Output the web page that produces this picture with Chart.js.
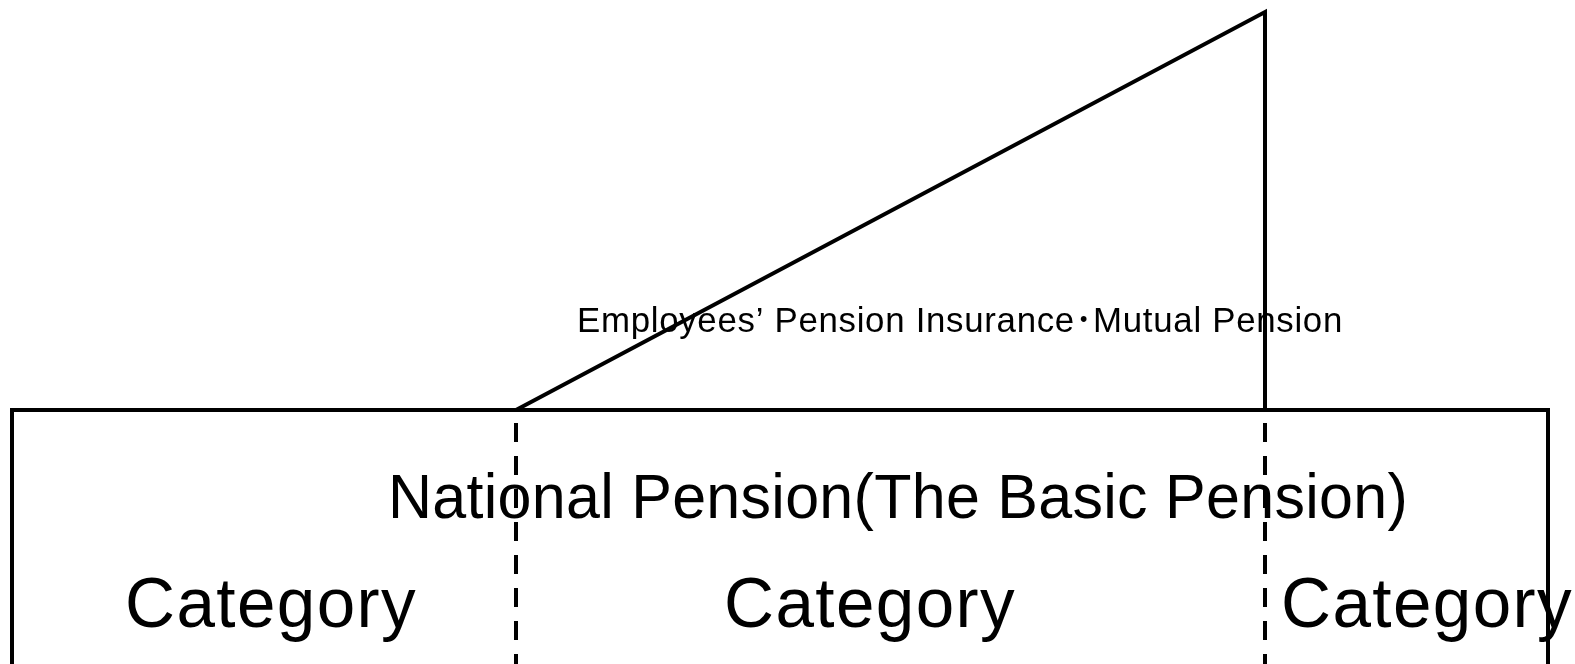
<!DOCTYPE html>
<html>
<head>
<meta charset="utf-8">
<script src="https://cdn.jsdelivr.net/npm/chart.js@4"></script>
<style>
  html, body { margin: 0; padding: 0; background: #fff; }
  canvas { display: block; }
</style>
</head>
<body>
<canvas id="diagram" width="1575" height="664"></canvas>
<script>
// Diagram space: x 0..1575, y 0..664 (y grows downwards)
const boxX = [12, 12, 1548, 1548];
const boxY = [664, 410, 410, 664];

const wedgeX = [516, 1265, 1265];
const wedgeY = [410, 12, 410];

const splitX = [516, 1265];
const splitY = [410, 664];

const categoryLabels = ['Category', 'Category', 'Category'];
const categoryX = [271, 870, 1427];
const categoryY = 627;

const basicLabel = 'National Pension(The Basic Pension)';
const basicX = 898;
const basicY = 518;

const upperLabel = 'Employees\u2019 Pension Insurance\uFF65Mutual Pension';
const upperX = 960;
const upperY = 332;

function points(xs, ys) {
    return xs.map((x, i) => ({ x: x, y: Array.isArray(ys) ? ys[i] : ys }));
}

const datasets = [
    { data: points(boxX, boxY) },
    { data: points(wedgeX, wedgeY) }
].map(d => Object.assign(d, {
    showLine: true,
    borderColor: '#000',
    borderWidth: 4,
    borderJoinStyle: 'miter',
    pointRadius: 0,
    tension: 0,
    clip: false
}));

splitX.forEach((x) => {
    datasets.push({
        data: points([x, x], splitY),
        showLine: true,
        borderColor: '#000',
        borderWidth: 4,
        borderDash: [19, 14],
        borderDashOffset: 20,
        pointRadius: 0,
        clip: false
    });
});

// texts placed through the scales
const textPlugin = {
    id: 'diagramText',
    afterDatasetsDraw(chart) {
        const ctx = chart.ctx;
        const sx = chart.scales.x, sy = chart.scales.y;
        const put = (txt, x, y, size, spacing, maxW) => {
            ctx.font = size + 'px "Liberation Sans", Arial, "Noto Sans CJK JP", sans-serif';
            ctx.letterSpacing = spacing + 'px';
            ctx.fillText(txt, sx.getPixelForValue(x), sy.getPixelForValue(y), maxW);
        };
        ctx.save();
        ctx.fillStyle = '#000';
        ctx.textAlign = 'center';
        ctx.textBaseline = 'alphabetic';
        put(upperLabel, upperX, upperY, 35, 0.7, 766);
        put(basicLabel, basicX, basicY, 63, 0.3, 1020);
        categoryLabels.forEach((c, i) => put(c, categoryX[i], categoryY, 70, 1.4, 292));
        ctx.restore();
    }
};

new Chart(document.getElementById('diagram'), {
    type: 'scatter',
    data: { datasets: datasets },
    options: {
        responsive: false,
        animation: false,
        layout: { padding: 0 },
        plugins: { legend: { display: false }, tooltip: { enabled: false } },
        scales: {
            x: { type: 'linear', min: 0, max: 1575, display: false },
            y: { type: 'linear', min: 0, max: 664, reverse: true, display: false }
        }
    },
    plugins: [textPlugin]
});
</script>
</body>
</html>
